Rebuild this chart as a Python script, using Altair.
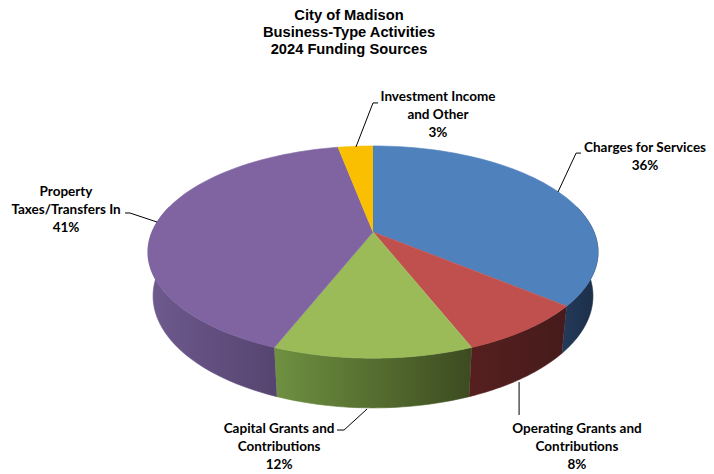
import altair as alt
import pandas as pd

# slices, clockwise from 12 o'clock
categories = ["Charges for Services", "Operating Grants and Contributions",
              "Capital Grants and Contributions", "Property Taxes/Transfers In",
              "Investment Income and Other"]
shares = [36, 8, 12, 41, 3]
label_names = ["Charges for Services", "Operating Grants and\nContributions",
               "Capital Grants and\nContributions", "Property\nTaxes/Transfers In",
               "Investment Income\nand Other"]
top_colors = ["#4F81BD", "#C0504D", "#9BBB59", "#8064A2", "#F9BF00"]
side_light = ["#233A5A", "#561F1F", "#6F9141", "#6E5A8E", "#B08800"]
side_dark = ["#1B2E48", "#461B1B", "#3C4B20", "#564470", "#806300"]

# label anchors (first line) and leader lines, in pie units (radius = 1)
label_x = [1.231, 0.923, -0.425, -1.389, 0.294]
label_y = [0.380, -0.891, -0.891, 0.181, 0.611]
leader_x = [[0.837, 0.919, 0.941], [0.661, 0.661], [-0.027, -0.131, -0.163],
            [-0.977, -1.100, -1.122], [-0.077, 0.0, 0.023]]
leader_y = [[0.181, 0.357, 0.357], [-0.679, -0.828], [-0.801, -0.896, -0.896],
            [0.045, 0.086, 0.086], [0.385, 0.584, 0.584]]

# 3d view: perspective factor, tilt, thickness
PERSP = 0.189
SIN_E = 0.463
COS_E = 0.886
PERSP_H = 0.0987
THICK = 0.226

slices = pd.DataFrame({"category": categories, "share": shares, "idx": range(len(shares))})
labels = pd.DataFrame({
    "category": categories, "x": label_x, "y": label_y,
    "label": [n + "\n" + str(s) + "%" for n, s in zip(label_names, shares)],
})
leaders = pd.DataFrame([
    {"category": c, "p": j, "x": lx, "y": ly}
    for c, xs_, ys_ in zip(categories, leader_x, leader_y)
    for j, (lx, ly) in enumerate(zip(xs_, ys_))
])

xs = alt.Scale(domain=[-1.6516, 1.5068], nice=False, zero=False)
ys = alt.Scale(domain=[-1.0588, 0.7421], nice=False, zero=False)
cs = alt.Scale(domain=categories, range=top_colors)

base = alt.Chart(slices).transform_window(
    cum="sum(share)", sort=[alt.SortField("idx")], frame=[None, 0]
).transform_calculate(
    a0="2 * PI * (datum.cum - datum.share) / 100"
).transform_calculate(
    a1="2 * PI * datum.cum / 100"
)

top = base.transform_calculate(
    k="sequence(0, 62)"
).transform_flatten(["k"]).transform_calculate(
    th="datum.a0 + (datum.a1 - datum.a0) * (datum.k - 1) / 60"
).transform_calculate(
    z="datum.k == 0 ? 0 : cos(datum.th)"
).transform_calculate(
    s="datum.k == 0 ? 0 : sin(datum.th)"
).transform_calculate(
    X=f"datum.s / (1 + {PERSP} * datum.z)"
).transform_calculate(
    Y=f"datum.z * {SIN_E} / (1 + {PERSP} * datum.z)"
).mark_line(filled=True, strokeWidth=0.6).encode(
    x=alt.X("X:Q", scale=xs, axis=None),
    y=alt.Y("Y:Q", scale=ys, axis=None),
    order="k:Q",
    color=alt.Color("category:N", scale=cs, legend=None),
    stroke=alt.Stroke("category:N", scale=cs, legend=None),
)

side_base = base.transform_calculate(
    lo="max(datum.a0, 75 * PI / 180)"
).transform_calculate(
    hi="min(datum.a1, 285 * PI / 180)"
).transform_filter("datum.hi > datum.lo").transform_calculate(
    k="sequence(0, 82)"
).transform_flatten(["k"]).transform_calculate(
    t="datum.k <= 40 ? datum.k / 40 : (81 - datum.k) / 40"
).transform_calculate(
    hh=f"datum.k <= 40 ? 0 : {THICK}"
).transform_calculate(
    th="datum.lo + (datum.hi - datum.lo) * datum.t"
).transform_calculate(
    den=f"1 + {PERSP} * cos(datum.th) + {PERSP_H} * datum.hh"
).transform_calculate(
    X="sin(datum.th) / datum.den"
).transform_calculate(
    Y=f"(cos(datum.th) * {SIN_E} - datum.hh * {COS_E}) / datum.den"
)

sides = []
for cat, light, dark in zip(categories, side_light, side_dark):
    grad = alt.Gradient(
        gradient="linear", x1=0, x2=1, y1=0, y2=0,
        stops=[alt.GradientStop(color=light, offset=0), alt.GradientStop(color=dark, offset=1)],
    )
    sides.append(
        side_base.transform_filter(alt.datum.category == cat)
        .mark_line(filled=True, color=grad, stroke=grad, strokeWidth=0.6)
        .encode(
            x=alt.X("X:Q", scale=xs, axis=None),
            y=alt.Y("Y:Q", scale=ys, axis=None),
            order="k:Q",
        )
    )

leader_lines = alt.Chart(leaders).mark_line(color="black", strokeWidth=1).encode(
    x=alt.X("x:Q", scale=xs, axis=None),
    y=alt.Y("y:Q", scale=ys, axis=None),
    detail="category:N",
    order="p:Q",
)

label_text = alt.Chart(labels).mark_text(
    font="Lato", fontSize=13.5, fontWeight="bold", lineBreak="\n", lineHeight=18,
    align="center", baseline="middle", color="black",
).encode(
    x=alt.X("x:Q", scale=xs, axis=None),
    y=alt.Y("y:Q", scale=ys, axis=None),
    text="label:N",
)

chart = alt.layer(*sides, top, leader_lines, label_text).properties(
    width=698,
    height=398,
    padding={"left": 0, "top": 60, "right": 0, "bottom": 8},
    autosize=alt.AutoSizeParams(type="none"),
    title=alt.TitleParams(
        ["City of Madison", "Business-Type Activities", "2024 Funding Sources"],
        font="Liberation Sans", fontSize=14.7, fontWeight="bold", color="black",
        anchor="middle", lineHeight=17, offset=11, dx=-8,
    ),
).configure_view(stroke=None)

chart.save("out.html", embed_options={"renderer": "svg", "actions": False})
